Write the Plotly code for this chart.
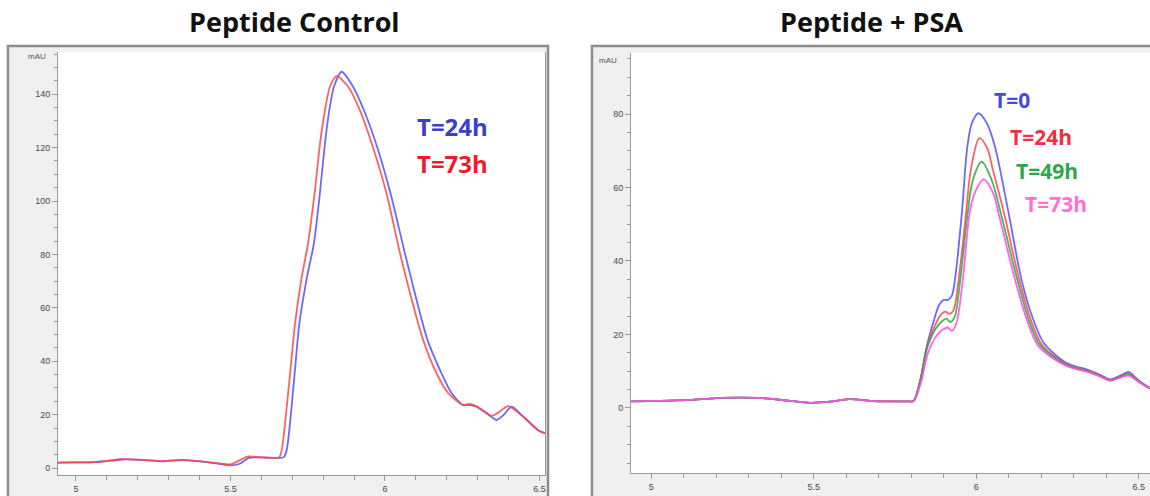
import plotly.graph_objects as go

# ---------------- data ----------------
# Left panel: Peptide Control
ctrl_24h_t = [4.942, 5.0, 5.06, 5.1, 5.15, 5.22, 5.28, 5.34, 5.40, 5.46, 5.50, 5.53, 5.56, 5.60, 5.65,
              5.672, 5.682, 5.705, 5.723, 5.747, 5.770, 5.790, 5.806, 5.820, 5.835, 5.860, 5.897, 5.932,
              5.971, 6.018, 6.070, 6.138, 6.183, 6.216, 6.253, 6.275, 6.297, 6.33, 6.362, 6.385, 6.41,
              6.448, 6.496, 6.518]
ctrl_24h_v = [2.0, 2.1, 2.2, 2.6, 3.2, 3.0, 2.5, 3.0, 2.5, 1.7, 1.0, 1.6, 3.8, 4.0, 3.8,
              4.0, 6.7, 31.8, 54, 71, 84, 103.5, 121.6, 134, 142.8, 148.4, 142.8, 134,
              121.6, 102.9, 77.9, 47.9, 35.5, 28, 23.6, 23.6, 23.0, 20.5, 18.0, 20, 23,
              19.2, 14.2, 13.0]

ctrl_73h_t = [4.942, 5.0, 5.06, 5.1, 5.15, 5.22, 5.28, 5.34, 5.40, 5.46, 5.50, 5.525, 5.555, 5.60, 5.645,
              5.658, 5.666, 5.69, 5.709, 5.73, 5.751, 5.773, 5.79, 5.806, 5.822, 5.844, 5.881, 5.919,
              5.957, 6.005, 6.054, 6.124, 6.167, 6.205, 6.253, 6.275, 6.297, 6.325, 6.345, 6.37, 6.398,
              6.448, 6.496, 6.518]
ctrl_73h_v = [2.0, 2.1, 2.2, 2.7, 3.3, 3.1, 2.6, 3.1, 2.6, 1.8, 1.4, 2.6, 4.3, 4.0, 3.8,
              4.0, 6.7, 31.8, 54, 71, 84, 103.5, 121.6, 134, 142.8, 146.8, 142.8, 134,
              121.6, 102.9, 77.9, 47.9, 35.5, 28, 23.6, 24.0, 23.0, 20.8, 19.5, 21, 23.2,
              19.2, 14.2, 13.0]

# Right panel: Peptide + PSA
base_t = [4.938, 5.0, 5.06, 5.12, 5.2, 5.27, 5.34, 5.42, 5.49, 5.55, 5.61, 5.68, 5.75, 5.79]
base_v = [1.8, 1.9, 2.0, 2.2, 2.7, 2.8, 2.7, 2.0, 1.4, 1.7, 2.4, 1.9, 1.8, 1.8]

psa_0_t = [5.807, 5.828, 5.848, 5.869, 5.886, 5.900, 5.913, 5.925, 5.937, 5.956, 5.973, 5.987, 6.007, 6.033,
           6.058, 6.10, 6.14, 6.176, 6.207, 6.238, 6.279, 6.31, 6.34, 6.382, 6.412, 6.448, 6.469, 6.50, 6.535]
psa_0_v = [1.9, 7.6, 16.7, 23.5, 28.0, 29.4, 29.4, 30.5, 36.5, 53, 71.1, 77.5, 80.2, 77.5,
           71.1, 53, 34.8, 24, 17.8, 14.9, 12.2, 11.2, 10.5, 9.0, 7.8, 9.0, 9.8, 7.5, 5.4]

psa_24_t = [5.807, 5.828, 5.848, 5.872, 5.892, 5.905, 5.918, 5.930, 5.946, 5.969, 5.984, 6.01, 6.035, 6.051,
            6.086, 6.133, 6.170, 6.20, 6.235, 6.279, 6.31, 6.34, 6.382, 6.412, 6.448, 6.469, 6.50, 6.535]
psa_24_v = [1.9, 7.4, 16.3, 22.2, 25.4, 26.2, 25.6, 26.5, 34.8, 53, 65, 73.4, 70.5, 65,
            53, 34.8, 23.5, 17.5, 14.4, 11.8, 10.9, 10.2, 8.8, 7.6, 8.8, 9.4, 7.3, 5.3]

psa_49_t = [5.807, 5.828, 5.848, 5.875, 5.895, 5.908, 5.921, 5.934, 5.951, 5.974, 5.99, 6.017, 6.048, 6.076,
            6.127, 6.165, 6.195, 6.232, 6.279, 6.31, 6.34, 6.382, 6.412, 6.448, 6.469, 6.50, 6.535]
psa_49_v = [1.9, 7.2, 16.0, 21.5, 23.6, 24.3, 23.4, 24.8, 34.8, 53, 62, 67.0, 62, 53,
            34.8, 23.2, 17.3, 14.2, 11.6, 10.7, 10.0, 8.6, 7.5, 8.6, 9.1, 7.2, 5.2]

psa_73_t = [5.807, 5.83, 5.852, 5.881, 5.899, 5.912, 5.925, 5.939, 5.959, 5.98, 5.995, 6.023, 6.053, 6.069,
            6.12, 6.16, 6.19, 6.228, 6.279, 6.31, 6.34, 6.382, 6.412, 6.448, 6.469, 6.50, 6.535]
psa_73_v = [1.8, 6.8, 15.0, 20.0, 21.4, 21.9, 21.0, 23.0, 34.8, 53, 58.3, 62.2, 58.3, 53,
            34.8, 23, 17.0, 14.0, 11.4, 10.5, 9.9, 8.5, 7.4, 8.4, 8.8, 7.1, 5.2]

x_ticks = [5, 5.5, 6, 6.5]
x_tick_labels = ["5", "5.5", "6", "6.5"]
left_y_ticks = [0, 20, 40, 60, 80, 100, 120, 140]
right_y_ticks = [0, 20, 40, 60, 80]

titles = ["Peptide Control", "Peptide + PSA"]
left_labels = ["T=24h", "T=73h"]
right_labels = ["T=0", "T=24h", "T=49h", "T=73h"]

# ---------------- styling ----------------
W, H = 1150, 496
def fx(px): return px / W
def fy(py): return 1 - py / H

BLUE = "rgba(80,80,255,0.85)"
RED = "rgba(255,70,70,0.85)"
GREEN = "rgba(40,170,60,0.85)"
MAG = "rgba(255,80,240,0.9)"

fig = go.Figure()
lw = 1.8
fig.add_trace(go.Scatter(x=ctrl_24h_t, y=ctrl_24h_v, mode="lines", line=dict(color=BLUE, width=lw, shape="spline", smoothing=0.7), xaxis="x", yaxis="y"))
fig.add_trace(go.Scatter(x=ctrl_73h_t, y=ctrl_73h_v, mode="lines", line=dict(color=RED, width=lw, shape="spline", smoothing=0.7), xaxis="x", yaxis="y"))

for t, v, c in [(psa_0_t, psa_0_v, BLUE), (psa_24_t, psa_24_v, RED), (psa_49_t, psa_49_v, GREEN), (psa_73_t, psa_73_v, MAG)]:
    fig.add_trace(go.Scatter(x=base_t + t, y=base_v + v, mode="lines",
                             line=dict(color=c, width=lw, shape="spline", smoothing=0.9),
                             xaxis="x2", yaxis="y2"))

tickfont = dict(family="Liberation Sans", size=9, color="#484848")
axcol = "#9a9a9a"
xcommon = dict(tickvals=x_ticks, ticktext=x_tick_labels, ticks="outside", ticklen=5, tickcolor=axcol,
               showline=True, linecolor=axcol, linewidth=1, showgrid=False, zeroline=False,
               tickfont=tickfont, minor=dict(dtick=0.1, ticks="outside", ticklen=4, tickcolor=axcol, showgrid=False))
ycommon = dict(ticks="outside", ticklen=5, tickcolor=axcol, showline=True, linecolor=axcol, linewidth=1,
               mirror=True, showgrid=False, zeroline=False, tickfont=tickfont,
               minor=dict(dtick=5, ticks="outside", ticklen=3, tickcolor=axcol, showgrid=False))

fig.update_layout(
    width=W, height=H, margin=dict(l=0, r=0, t=0, b=0),
    paper_bgcolor="white", plot_bgcolor="white", showlegend=False,
    xaxis=dict(domain=[fx(58), fx(545)], range=[4.942, 6.518], anchor="y", **xcommon),
    yaxis=dict(domain=[fy(475), fy(52)], range=[-2.6, 155.8], anchor="x", tickvals=left_y_ticks, **ycommon),
    xaxis2=dict(domain=[fx(631), 1.0], range=[4.938, 6.535], anchor="y2", **xcommon),
    yaxis2=dict(domain=[fy(473), fy(53)], range=[-17.7, 96.6], anchor="x2", tickvals=right_y_ticks, **ycommon),
)

# frames
shapes = [
    dict(type="rect", xref="paper", yref="paper", x0=fx(8), x1=fx(548), y0=-0.05, y1=fy(46),
         fillcolor="#f0f0f0", line=dict(color="#8c8c8c", width=2.5), layer="below"),
    dict(type="rect", xref="paper", yref="paper", x0=fx(592), x1=1.05, y0=-0.05, y1=fy(46),
         fillcolor="#f0f0f0", line=dict(color="#8c8c8c", width=2.5), layer="below"),
    dict(type="rect", xref="x domain", yref="y domain", x0=0, x1=1, y0=0, y1=1,
         fillcolor="white", line=dict(width=0), layer="below"),
    dict(type="rect", xref="x2 domain", yref="y2 domain", x0=0, x1=1, y0=0, y1=1,
         fillcolor="white", line=dict(width=0), layer="below"),
]
fig.update_layout(shapes=shapes)

ann = []
def add_text(txt, px, py, font):
    ann.append(dict(text=txt, x=fx(px), y=fy(py), xref="paper", yref="paper", showarrow=False,
                    font=font, xanchor="center", yanchor="middle"))

title_font = dict(family="Open Sans", size=27, color="#111111", weight="bold")
add_text(titles[0], 294, 21, title_font)
add_text(titles[1], 871, 22, title_font)

mau_font = dict(family="Liberation Sans", size=8, color="#555555")
add_text("mAU", 37, 57, mau_font)
add_text("mAU", 608, 60, mau_font)

left_cols = ["#3c40c8", "#ee1c2a"]
left_pos = [(452, 126), (452, 163)]
for txt, col, (px, py) in zip(left_labels, left_cols, left_pos):
    add_text(txt, px, py, dict(family="Open Sans", size=24, color=col, weight="bold"))

right_cols = ["#4a4ad8", "#f03040", "#2aa84a", "#ff70d0"]
right_pos = [(1012, 100), (1041, 137), (1047, 171), (1056, 204)]
for txt, col, (px, py) in zip(right_labels, right_cols, right_pos):
    add_text(txt, px, py, dict(family="Open Sans", size=21, color=col, weight="bold"))

fig.update_layout(annotations=ann)
fig.write_html("out.html")
